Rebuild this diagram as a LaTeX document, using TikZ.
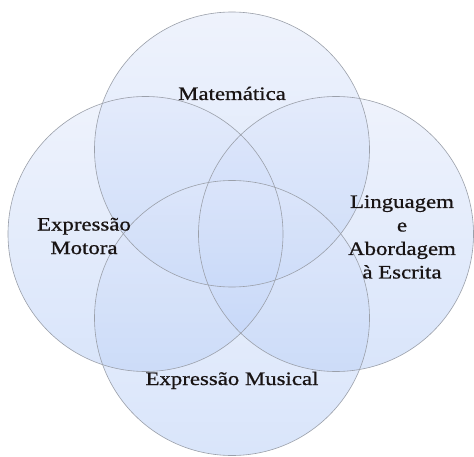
\documentclass[tikz,border=0pt]{standalone}
\usepackage{fontspec}
\setmainfont{Liberation Serif}
\newfontfamily\lblfont[FakeStretch=1.2,FakeBold=0.8]{Liberation Serif}
\definecolor{circtop}{RGB}{224,232,251}
\definecolor{circbot}{RGB}{180,204,247}
\definecolor{circline}{RGB}{155,160,170}
\definecolor{lbltext}{RGB}{25,20,20}
\begin{document}
\begin{tikzpicture}[x=1pt,y=1pt,
  area/.style={circle, minimum size=275pt, inner sep=0pt,
    top color=circtop, bottom color=circbot, fill opacity=0.5},
  rim/.style={circle, minimum size=275pt, inner sep=0pt,
    draw=circline, line width=0.6pt},
  lbl/.style={font=\lblfont\fontsize{19}{23.5}\selectfont, text=lbltext,
    align=center, inner sep=0pt}]
\useasboundingbox[fill=white] (0,0) rectangle (474,456);
% four overlapping areas
\node[area] (mat) at (232,306.5) {};
\node[area] (mot) at (145.5,222) {};
\node[area] (lin) at (336,222) {};
\node[area] (mus) at (232,138) {};
% outlines on top
\node[rim] at (mat) {};
\node[rim] at (mot) {};
\node[rim] at (lin) {};
\node[rim] at (mus) {};
% labels
\node[lbl, anchor=base] (tmat) at (232,356) {Matemática};
\node[lbl] (tmot) at (84,220) {Expressão\\Motora};
\node[lbl] (tlin) at (402,219) {Linguagem\\e\\Abordagem\\à Escrita};
\node[lbl, anchor=base] (tmus) at (232,71) {Expressão Musical};
\end{tikzpicture}
\end{document}
